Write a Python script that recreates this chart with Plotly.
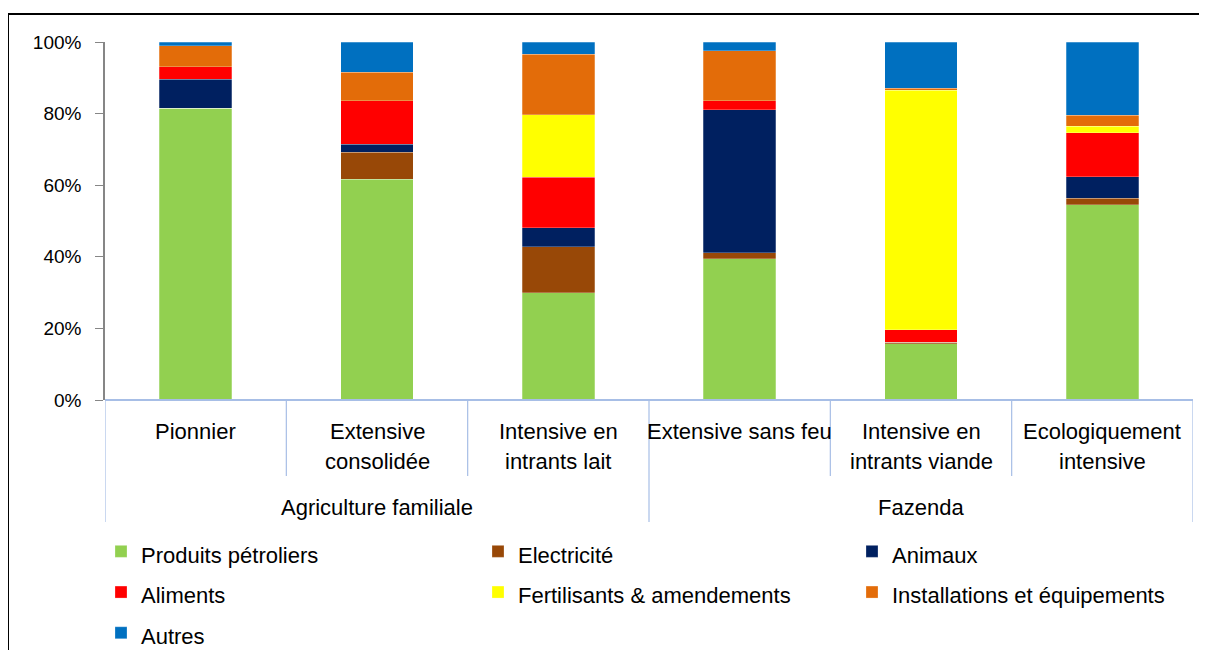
import plotly.graph_objects as go

categories = ["Pionnier", "Extensive consolidée", "Intensive en intrants lait",
              "Extensive sans feu", "Intensive en intrants viande", "Ecologiquement intensive"]
category_labels = ["Pionnier", "Extensive<br>consolidée", "Intensive en<br>intrants lait",
                   "Extensive sans feu", "Intensive en<br>intrants viande", "Ecologiquement<br>intensive"]
groups = ["Agriculture familiale", "Fazenda"]
group_members = [[0, 1, 2], [3, 4, 5]]

series_names = ["Produits pétroliers", "Electricité", "Animaux", "Aliments",
                "Fertilisants & amendements", "Installations et équipements", "Autres"]
produits_petroliers = [81.5, 61.7, 29.9, 39.4, 15.7, 54.5]
electricite = [0.0, 7.5, 12.9, 1.7, 0.5, 1.8]
animaux = [8.1, 2.3, 5.3, 40.0, 0.0, 6.1]
aliments = [3.5, 12.1, 14.1, 2.5, 3.4, 12.3]
fertilisants = [0.0, 0.0, 17.5, 0.0, 66.9, 1.7]
installations = [5.9, 7.9, 16.9, 13.9, 0.6, 3.1]
autres = [1.0, 8.5, 3.4, 2.5, 12.9, 20.5]
series_values = [produits_petroliers, electricite, animaux, aliments,
                 fertilisants, installations, autres]
colors = ["#92D050", "#984807", "#002060", "#FF0000", "#FFFF00", "#E36C09", "#0070C0"]

FONT = "Liberation Sans, Arial, sans-serif"
AXIS_BLUE = "#A7BEE6"
TXT = 22

# page body has an 8px margin: figure origin sits at screen (8, 8)
OFF = 8
W, H = 1207, 650
L = 105 - OFF
T = 42 - OFF
B = H - (400 - OFF)
R = W - (1193 - OFF)
pw, ph = W - L - R, H - T - B


def py(pix):
    return (H - B - (pix - OFF)) / ph


def px(pix):
    return ((pix - OFF) - L) / pw


legend_ids = ["legend", "legend2", "legend3"]
legend_left_px = [101, 478, 852]

fig = go.Figure()
xs = list(range(len(categories)))
for k, (name, vals, col) in enumerate(zip(series_names, series_values, colors)):
    fig.add_trace(go.Bar(
        x=xs, y=vals,
        name=f'<span style="font-size:{TXT}px">{name}</span>',
        legend=legend_ids[k % 3],
        legendrank=k,
        marker=dict(color=col, line=dict(color="rgba(255,255,255,0.5)", width=0.5)),
        customdata=categories,
        hovertemplate="%{customdata}: %{y:.1f}%<extra>" + name + "</extra>",
    ))

shapes = []
shapes.append(dict(type="line", xref="x", yref="paper", x0=-0.5, x1=5.5, y0=0, y1=0,
                   line=dict(color=AXIS_BLUE, width=2)))
for i in range(len(categories) + 1):
    b = i - 0.5
    is_group = i == 0 or i == len(categories) or any(i == g[0] for g in group_members)
    bottom = 522 if is_group else 476
    shapes.append(dict(type="line", xref="x", yref="paper", x0=b, x1=b,
                       y0=0, y1=py(bottom), line=dict(color=AXIS_BLUE, width=1.2)))
shapes.append(dict(type="rect", xref="paper", yref="paper",
                   x0=px(8), x1=px(1230), y0=py(14), y1=py(680),
                   line=dict(color="black", width=2), fillcolor="rgba(0,0,0,0)"))

annotations = []
for i, lab in enumerate(category_labels):
    lines = lab.split("<br>")
    for j, ln in enumerate(lines):
        annotations.append(dict(xref="x", yref="paper", x=i, y=py(432 + 29 * j),
                                text=ln, showarrow=False, xanchor="center", yanchor="middle",
                                font=dict(family=FONT, size=TXT, color="black")))
for g, members in zip(groups, group_members):
    annotations.append(dict(xref="x", yref="paper", x=sum(members) / len(members), y=py(507),
                            text=g, showarrow=False, xanchor="center", yanchor="middle",
                            font=dict(family=FONT, size=TXT, color="black")))

legend_common = dict(orientation="v", xanchor="left", y=py(526), yanchor="top",
                     traceorder="normal", bgcolor="rgba(0,0,0,0)",
                     font=dict(family=FONT, size=29, color="black"), itemclick=False)

fig.update_layout(
    width=W, height=H,
    margin=dict(l=L, r=R, t=T, b=B, pad=0, autoexpand=False),
    barmode="stack", bargap=0.6,
    plot_bgcolor="white", paper_bgcolor="white",
    font=dict(family=FONT, size=19, color="black"),
    xaxis=dict(range=[-0.5, 5.5], showticklabels=False, showgrid=False, zeroline=False,
               showline=False, ticks=""),
    yaxis=dict(range=[0, 100], dtick=20, ticksuffix="%", showgrid=False, zeroline=False,
               showline=True, linecolor="#868686", linewidth=1.5,
               ticks="outside", ticklen=8, tickcolor="#868686", ticklabelstandoff=10,
               tickfont=dict(family=FONT, size=19, color="black")),
    legend=dict(x=px(legend_left_px[0]), **legend_common),
    legend2=dict(x=px(legend_left_px[1]), **legend_common),
    legend3=dict(x=px(legend_left_px[2]), **legend_common),
    shapes=shapes,
    annotations=annotations,
)

fig.write_html("out.html")
